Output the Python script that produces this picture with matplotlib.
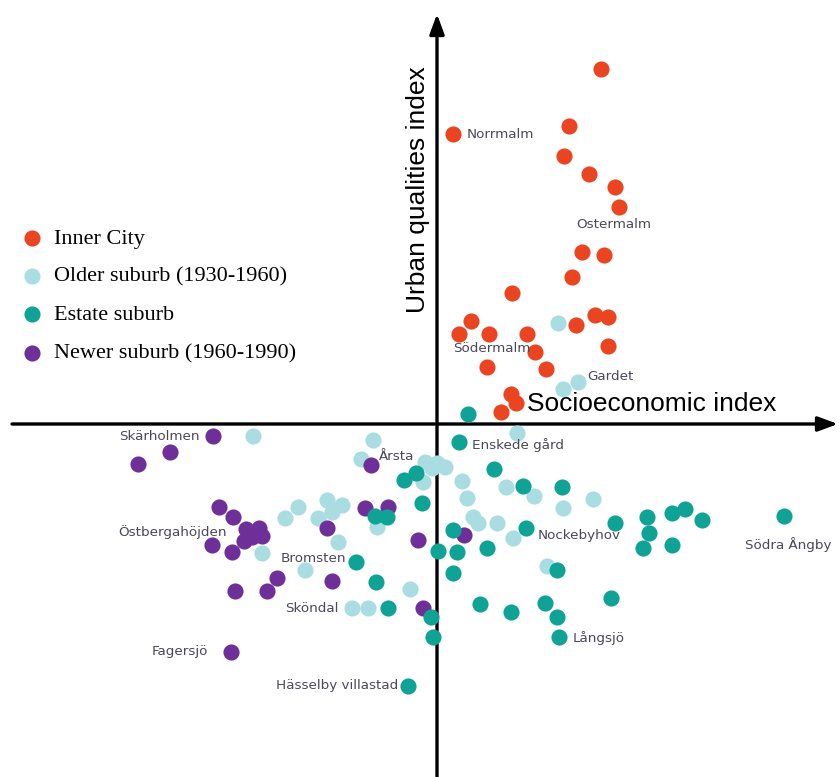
import matplotlib.pyplot as plt

# index units: origin where the two axes cross
inner_x = [1.64, 0.16, 1.32, 1.27, 1.52, 1.78, 1.82, 1.45, 1.67, 1.35, 0.75, 1.58, 1.71,
           1.39, 0.34, 0.22, 0.52, 0.90, 1.71, 0.98, 0.50, 1.09, 0.74, 0.79, 0.64]
inner_y = [3.55, 2.90, 2.98, 2.68, 2.50, 2.37, 2.17, 1.72, 1.69, 1.47, 1.31, 1.09, 1.07,
           0.99, 1.03, 0.90, 0.90, 0.90, 0.78, 0.72, 0.57, 0.55, 0.30, 0.21, 0.12]

older_x = [1.21, 1.26, 1.41, 0.80, -1.84, -0.64, -0.76, -0.12, -0.05, 0.00, 0.08, -0.14,
           0.25, 0.30, 0.69, 0.97, 1.56, 1.26, 0.36, 0.41, 0.60, 0.76, 1.10, -1.39, -1.52,
           -1.10, -0.95, -1.19, -1.05, -0.60, -0.99, -1.75, -1.32, -0.27, -0.85, -0.69]
older_y = [1.01, 0.35, 0.42, -0.09, -0.12, -0.16, -0.35, -0.38, -0.44, -0.39, -0.43, -0.58,
           -0.57, -0.74, -0.63, -0.72, -0.75, -0.84, -0.93, -0.99, -0.99, -1.14, -1.42, -0.83, -0.94,
           -0.76, -0.81, -0.94, -0.88, -1.03, -1.18, -1.29, -1.46, -1.65, -1.84, -1.84]

estate_x = [0.31, 0.22, 0.57, -0.33, -0.21, 0.86, 1.25, -0.15, -0.62, -0.50, 0.89, 0.16,
            0.01, 0.20, 0.50, 0.16, 1.20, 1.78, 2.10, 2.35, 2.48, 2.65, 2.12, 2.06, 2.35,
            3.47, -0.81, -0.61, -0.49, -0.06, -0.04, 0.43, 0.74, 1.08, 1.20, 1.74, 1.22, -0.29]
estate_y = [0.10, -0.18, -0.45, -0.56, -0.49, -0.62, -0.63, -0.79, -0.92, -0.93, -1.04, -1.06,
            -1.27, -1.28, -1.24, -1.49, -1.46, -0.99, -0.93, -0.89, -0.85, -0.96, -1.09, -1.24, -1.21,
            -0.92, -1.38, -1.58, -1.84, -1.93, -2.13, -1.80, -1.88, -1.79, -1.93, -1.74, -2.13, -2.62]

newer_x = [-2.24, -2.67, -2.99, -0.66, -0.72, -0.49, -0.19, 0.27, -1.10, -2.18, -2.04,
           -1.91, -1.78, -1.85, -1.93, -1.75, -2.25, -2.05, -1.60, -2.02, -1.70, -1.05,
           -0.14, -2.06]
newer_y = [-0.12, -0.28, -0.40, -0.41, -0.84, -0.83, -1.16, -1.11, -1.04, -0.83, -0.93,
           -1.05, -1.04, -1.13, -1.17, -1.12, -1.21, -1.28, -1.54, -1.67, -1.67, -1.57,
           -1.84, -2.28]

# district names
names = ["Norrmalm", "Ostermalm", "Södermalm", "Gardet", "Skärholmen", "Årsta",
         "Östbergahöjden", "Bromsten", "Enskede gård", "Nockebyhov", "Södra Ångby",
         "Sköndal", "Fagersjö", "Hässelby villastad", "Långsjö"]
name_x = [0.30, 1.39, 0.16, 1.50, -2.37, -0.58, -2.10, -1.56, 0.35, 1.01, 3.08,
          -1.52, -2.85, -1.61, 1.36]
name_y = [2.89, 2.00, 0.75, 0.47, -0.12, -0.33, -1.08, -1.34, -0.21, -1.12, -1.21,
          -1.85, -2.28, -2.62, -2.14]
name_ha = ['left', 'left', 'left', 'left', 'right', 'left', 'right', 'left', 'left',
           'left', 'left', 'left', 'left', 'left', 'left']

fig = plt.figure(figsize=(8.4, 7.77), dpi=100)
ax = fig.add_axes([0, 0, 1, 1])
ax.set_xlim(-4.37, 4.03)
ax.set_ylim(-3.53, 4.24)
ax.axis('off')

s = 135
ax.scatter(older_x, older_y, s=s, c='#a9dde2', lw=0, zorder=3, label='Older suburb (1930-1960)')
ax.scatter(newer_x, newer_y, s=s, c='#6f2f98', lw=0, zorder=4, label='Newer suburb (1960-1990)')
ax.scatter(estate_x, estate_y, s=s, c='#0fa396', lw=0, zorder=5, label='Estate suburb')
ax.scatter(inner_x, inner_y, s=s, c='#ea4420', lw=0, zorder=6, label='Inner City')

for t, x, y, ha in zip(names, name_x, name_y, name_ha):
    ax.text(x, y, t, ha=ha, va='center', fontsize=9.7, color='#4b4858', zorder=7)

# axes with arrows
arr = dict(arrowstyle='-|>,head_length=0.6,head_width=0.22', lw=2.4, color='black',
           mutation_scale=20, shrinkA=0, shrinkB=0)
ax.annotate('', xy=(4.01, 0), xytext=(-4.25, 0), arrowprops=arr, zorder=2)
ax.annotate('', xy=(0, 4.10), xytext=(0, -3.6), arrowprops=arr, zorder=2)

ax.text(0.90, 0.20, 'Socioeconomic index', fontsize=19, family='Liberation Sans',
        ha='left', va='center', zorder=8)
ax.text(-0.19, 2.34, 'Urban qualities index', fontsize=19, family='Liberation Sans',
        rotation=90, ha='center', va='center', zorder=8)

h, l = ax.get_legend_handles_labels()
order = [3, 0, 2, 1]
ax.legend([h[i] for i in order], [l[i] for i in order], loc='upper left',
          bbox_to_anchor=(0.025, 0.7066), frameon=False, borderpad=0, borderaxespad=0,
          handlelength=1.0, handletextpad=0.5, labelspacing=0.8,
          prop={'family': 'Liberation Serif', 'size': 16})

fig.savefig('out.png', dpi=100)
